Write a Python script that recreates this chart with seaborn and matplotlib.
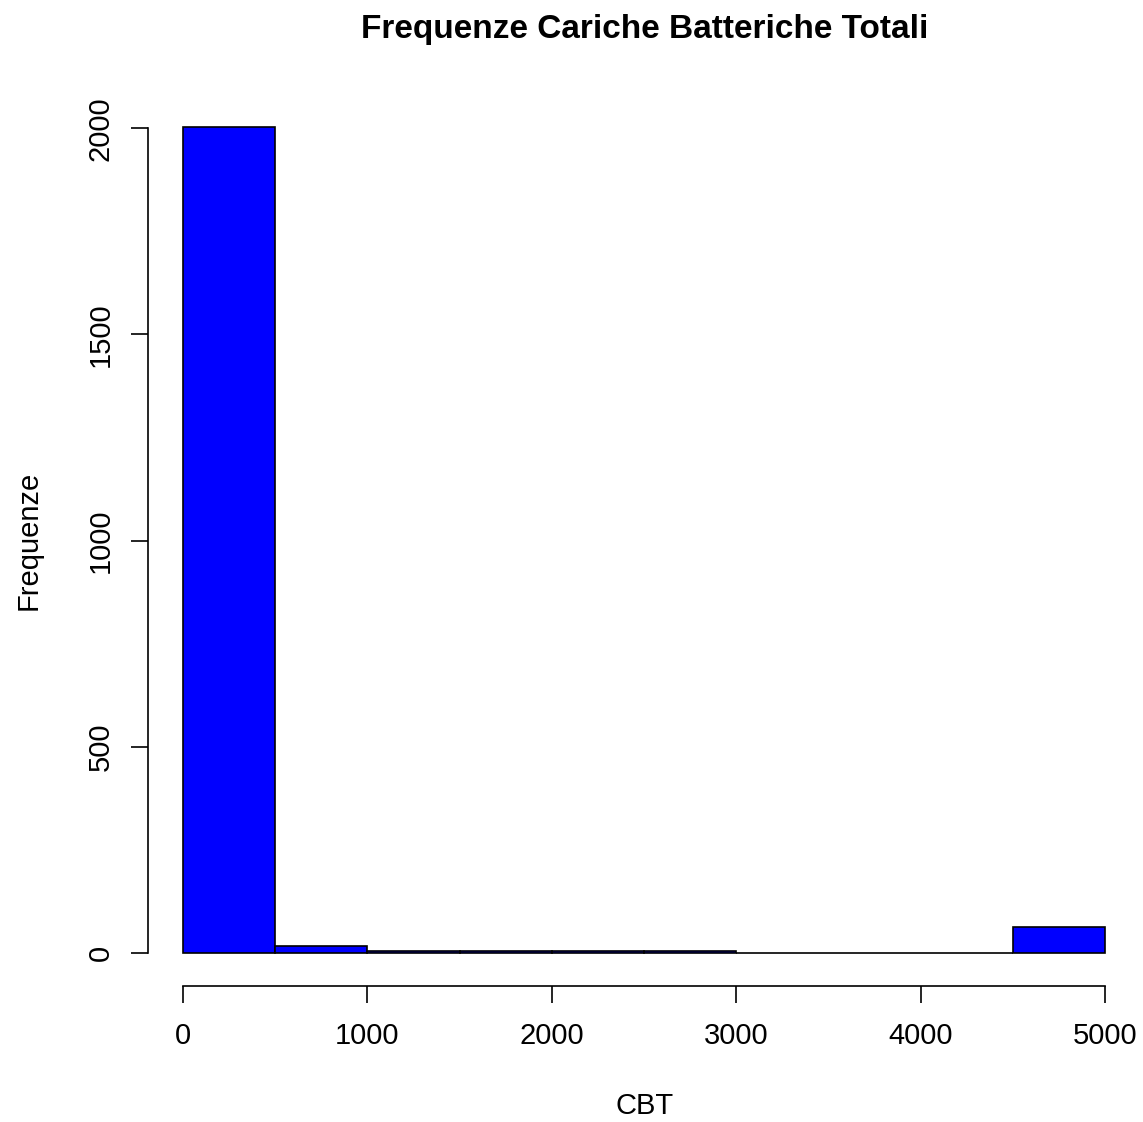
import numpy as np
import matplotlib
matplotlib.use("Agg")
import matplotlib.pyplot as plt
import seaborn as sns

# bin edges and counts
bin_edges = [0, 500, 1000, 1500, 2000, 2500, 3000, 3500, 4000, 4500, 5000]
counts = [2003, 17, 5, 4, 4, 4, 0, 0, 0, 63]
x_ticks = [0, 1000, 2000, 3000, 4000, 5000]
y_ticks = [0, 500, 1000, 1500, 2000]

sns.set_style("white")
plt.rcParams['font.family'] = ['Liberation Sans', 'DejaVu Sans']
plt.rcParams['text.color'] = 'black'
plt.rcParams['axes.labelcolor'] = 'black'
plt.rcParams['xtick.color'] = 'black'
plt.rcParams['ytick.color'] = 'black'

fig = plt.figure(figsize=(11.43, 11.22), dpi=100)
W, H = 1143, 1122
ax = fig.add_axes([148 / W, 1 - 986 / H, (1142 - 148) / W, (986 - 94) / H])

centers = [(a + b) / 2 for a, b in zip(bin_edges[:-1], bin_edges[1:])]
sns.histplot(x=centers, weights=counts, bins=bin_edges, ax=ax,
             color="#0000ff", alpha=1, edgecolor="black", linewidth=1.2)

ax.set_xlim(-190, 5200)
ax.set_ylim(-0.04 * 2003, 2003 * 1.04)
for s in ["top", "right"]:
    ax.spines[s].set_visible(False)
ax.spines["left"].set_bounds(0, 2000)
ax.spines["bottom"].set_bounds(0, 5000)
for s in ["left", "bottom"]:
    ax.spines[s].set_color("black")
    ax.spines[s].set_linewidth(1.2)

ax.set_xticks(x_ticks)
ax.set_yticks(y_ticks)
ax.set_yticklabels([str(v) for v in y_ticks], rotation=90, va="center")
ax.tick_params(axis="both", length=12, width=1.2, color="black", labelsize=21,
               direction="out", bottom=True, left=True)
ax.tick_params(axis="x", pad=14)
ax.tick_params(axis="y", pad=12)

ax.set_xlabel("CBT", fontsize=21, labelpad=30)
ax.set_ylabel("Frequenze", fontsize=21, labelpad=32)
ax.set_title("Frequenze Cariche Batteriche Totali", fontsize=24,
             fontweight="bold", pad=40)

fig.savefig("out.png", dpi=100)
